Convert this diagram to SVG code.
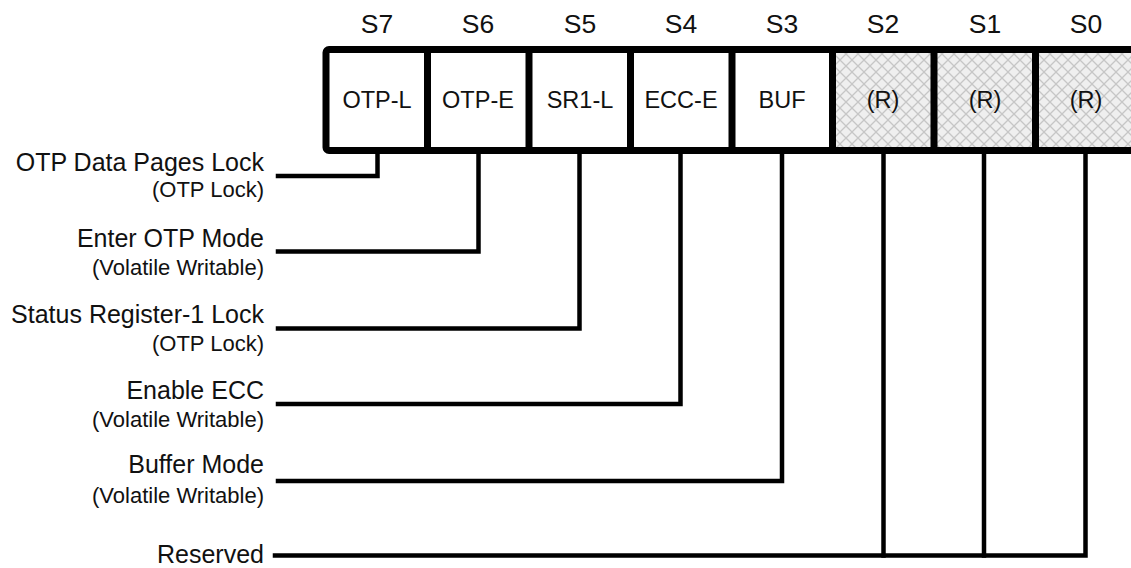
<svg xmlns="http://www.w3.org/2000/svg" width="1131" height="568" viewBox="0 0 1131 568">
<style>
text{font-family:"Liberation Sans",Arial,sans-serif;fill:#111}
.hdr{font-size:26.5px;text-anchor:middle}
.cell{font-size:23.5px;text-anchor:middle}
.lbl{font-size:25px;text-anchor:end}
.sub{font-size:22px;text-anchor:end}
.div{stroke:#000;stroke-width:7;fill:none}
.wire{stroke:#000;stroke-width:4.5;fill:none;stroke-linejoin:miter;stroke-linecap:square}
</style>
<defs>
<pattern id="hatch" patternUnits="userSpaceOnUse" width="12" height="12">
<rect width="12" height="12" fill="#efefef"/>
<path d="M0,0 L12,12 M12,0 L0,12" stroke="#c6c6c6" stroke-width="1.3"/>
</pattern>
</defs>
<rect width="1131" height="568" fill="#fff"/>
<g id="register">
<rect x="832" y="49" width="305" height="102" fill="url(#hatch)"/>
<rect x="326" y="49.5" width="815" height="101" rx="3" class="div" fill="none"/>
<line x1="427.5" y1="49" x2="427.5" y2="151" class="div"/>
<line x1="529" y1="49" x2="529" y2="151" class="div"/>
<line x1="630.5" y1="49" x2="630.5" y2="151" class="div"/>
<line x1="732" y1="49" x2="732" y2="151" class="div"/>
<line x1="832.5" y1="49" x2="832.5" y2="151" class="div"/>
<line x1="934" y1="49" x2="934" y2="151" class="div"/>
<line x1="1035.5" y1="49" x2="1035.5" y2="151" class="div"/>
</g>
<g id="bit-S7"><text class="hdr" x="377" y="33">S7</text><text class="cell" x="377" y="108">OTP-L</text></g>
<g id="bit-S6"><text class="hdr" x="478" y="33">S6</text><text class="cell" x="478" y="108">OTP-E</text></g>
<g id="bit-S5"><text class="hdr" x="580" y="33">S5</text><text class="cell" x="580" y="108">SR1-L</text></g>
<g id="bit-S4"><text class="hdr" x="681" y="33">S4</text><text class="cell" x="681" y="108">ECC-E</text></g>
<g id="bit-S3"><text class="hdr" x="782" y="33">S3</text><text class="cell" x="782" y="108">BUF</text></g>
<g id="bit-S2"><text class="hdr" x="883" y="33">S2</text><text class="cell" x="883" y="108">(R)</text></g>
<g id="bit-S1"><text class="hdr" x="985" y="33">S1</text><text class="cell" x="985" y="108">(R)</text></g>
<g id="bit-S0"><text class="hdr" x="1086" y="33">S0</text><text class="cell" x="1086" y="108">(R)</text></g>
<g id="label-otp-lock"><text class="lbl" x="264" y="171">OTP Data Pages Lock</text><text class="sub" x="264" y="197">(OTP Lock)</text></g>
<g id="label-otp-mode"><text class="lbl" x="264" y="247">Enter OTP Mode</text><text class="sub" x="264" y="275">(Volatile Writable)</text></g>
<g id="label-sr1-lock"><text class="lbl" x="264" y="323">Status Register-1 Lock</text><text class="sub" x="264" y="351">(OTP Lock)</text></g>
<g id="label-ecc"><text class="lbl" x="264" y="399">Enable ECC</text><text class="sub" x="264" y="427">(Volatile Writable)</text></g>
<g id="label-buffer"><text class="lbl" x="264" y="473">Buffer Mode</text><text class="sub" x="264" y="503">(Volatile Writable)</text></g>
<g id="label-reserved"><text class="lbl" x="264" y="563">Reserved</text></g>
<g id="connectors">
<path class="wire" d="M278,176 H377.5 V154"/>
<path class="wire" d="M278,251.5 H478.5 V154"/>
<path class="wire" d="M278,328.5 H579.5 V154"/>
<path class="wire" d="M278,404 H680.5 V154"/>
<path class="wire" d="M278,481 H782 V154"/>
<path class="wire" d="M275,555.5 H1085.5 V154"/>
<path class="wire" d="M883.5,555.5 V154"/>
<path class="wire" d="M984,555.5 V154"/>
</g>
</svg>
